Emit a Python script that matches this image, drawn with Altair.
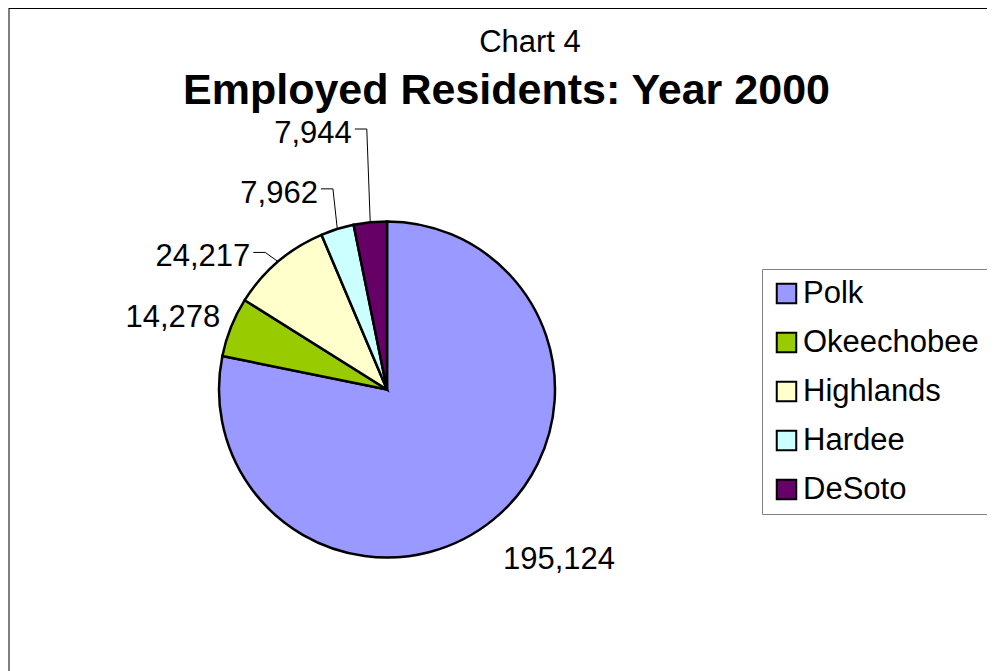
import altair as alt
import pandas as pd

# ---- data ----
counties = ["Polk", "Okeechobee", "Highlands", "Hardee", "DeSoto"]
employed = [195124, 14278, 24217, 7962, 7944]
value_labels = ["195,124", "14,278", "24,217", "7,962", "7,944"]
colors = ["#9999FF", "#99CC00", "#FFFFCC", "#CCFFFF", "#660066"]
chart_number = "Chart 4"
chart_title = "Employed Residents: Year 2000"

# ---- layout (pixels / degrees) ----
W, H = 979, 663
CX, CY, R = 379, 381.5, 168
label_angle_shift = [-12.6, -1.3, -7.6, -3.1, -2.4]
label_radius = [290, 178, 184, 199, 249]
show_leader = [0, 0, 1, 1, 1]
FONT = "Liberation Sans"

df = pd.DataFrame({
    "county": counties,
    "value": employed,
    "label": value_labels,
    "order": list(range(len(counties))),
    "shift": label_angle_shift,
    "lr": label_radius,
    "leader": show_leader,
})

base = alt.Chart(df).transform_joinaggregate(
    total="sum(value)"
).transform_window(
    cum="sum(value)", sort=[alt.SortField("order")]
).transform_calculate(
    mid="(datum.cum - datum.value / 2) / datum.total * 2 * PI"
).transform_calculate(
    la="datum.mid + datum.shift * PI / 180"
).transform_calculate(
    lx=f"{CX} + datum.lr * sin(datum.la)",
    ly=f"{CY} - datum.lr * cos(datum.la)",
    ax=f"{CX} + {R} * sin(datum.mid)",
    ay=f"{CY} - {R} * cos(datum.mid)",
).transform_calculate(
    hy="datum.ly - 14",
    hx1="datum.lx + 3",
    hx2="datum.lx + 15",
)

arcs = alt.Chart(df).mark_arc(outerRadius=R, stroke="black", strokeWidth=2.5).encode(
    theta=alt.Theta("value:Q", stack=True),
    order=alt.Order("order:Q"),
    color=alt.Color(
        "county:N",
        sort=counties,
        scale=alt.Scale(domain=counties, range=colors),
        legend=alt.Legend(
            title=None,
            orient="none",
            legendX=754,
            legendY=261,
            symbolType="square",
            symbolSize=380,
            symbolStrokeColor="black",
            symbolStrokeWidth=2,
            labelFont=FONT,
            labelFontSize=31,
            labelColor="black",
            labelOffset=1,
            labelLimit=400,
            rowPadding=17,
            padding=9,
            strokeColor="#808080",
            fillColor="white",
        ),
    ),
    x=alt.value(CX),
    y=alt.value(CY),
)

labels = base.mark_text(
    font=FONT, fontSize=31, align="right", baseline="alphabetic", color="black"
).encode(
    x=alt.X("lx:Q", scale=None),
    y=alt.Y("ly:Q", scale=None),
    text="label:N",
)

lead_h = base.transform_filter("datum.leader == 1").mark_rule(
    color="black", strokeWidth=1
).encode(
    x=alt.X("hx1:Q", scale=None),
    x2="hx2:Q",
    y=alt.Y("hy:Q", scale=None),
    y2="hy:Q",
)

lead_d = base.transform_filter("datum.leader == 1").mark_rule(
    color="black", strokeWidth=1
).encode(
    x=alt.X("hx2:Q", scale=None),
    x2="ax:Q",
    y=alt.Y("hy:Q", scale=None),
    y2="ay:Q",
)

num_text = alt.Chart(pd.DataFrame({"t": [chart_number]})).mark_text(
    font=FONT, fontSize=31, align="center", baseline="alphabetic", color="black"
).encode(x=alt.value(522), y=alt.value(44), text="t:N")

title_text = alt.Chart(pd.DataFrame({"t": [chart_title]})).mark_text(
    font=FONT, fontSize=43, fontWeight="bold", align="center",
    baseline="alphabetic", color="black"
).encode(x=alt.value(498.5), y=alt.value(96), text="t:N")

frame_left = alt.Chart(pd.DataFrame({"t": [0]})).mark_rule(color="black", strokeWidth=1).encode(
    x=alt.value(1), y=alt.value(0), y2=alt.value(H)
)
frame_top = alt.Chart(pd.DataFrame({"t": [0]})).mark_rule(color="black", strokeWidth=1).encode(
    y=alt.value(0.5), x=alt.value(1), x2=alt.value(W)
)

chart = alt.layer(
    frame_left, frame_top, arcs, lead_h, lead_d, labels, num_text, title_text
).properties(
    width=W, height=H, autosize=alt.AutoSizeParams(type="none"), padding=0,
    background="white",
).configure_view(stroke=None)

chart.save("out.html", embed_options={"renderer": "svg", "actions": False})
